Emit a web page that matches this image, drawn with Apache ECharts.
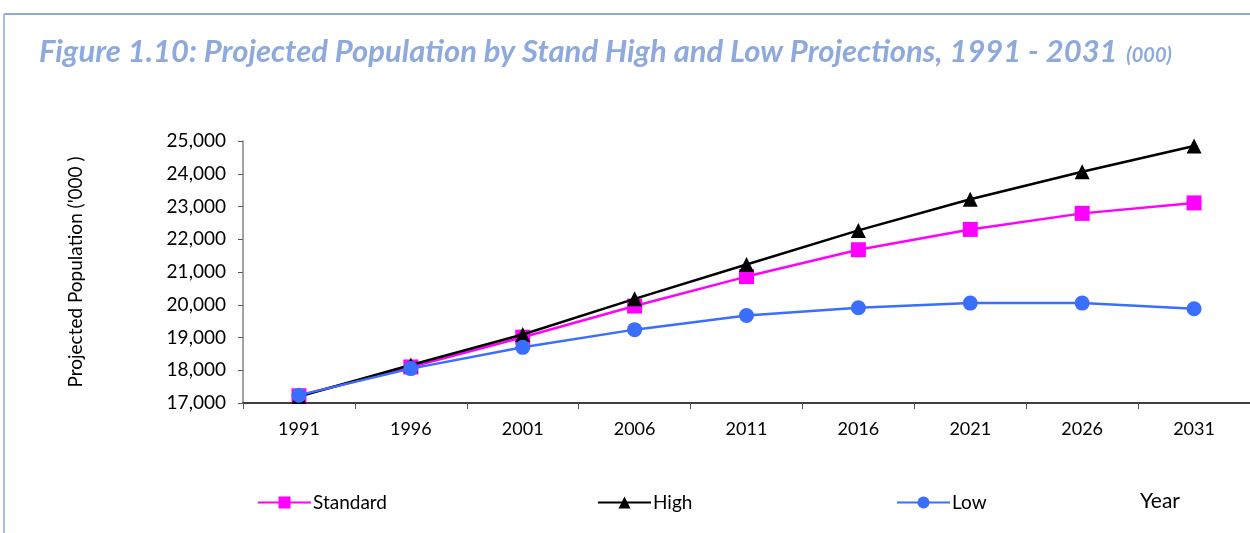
<!DOCTYPE html>
<html>
<head>
<meta charset="utf-8">
<script src="https://cdn.jsdelivr.net/npm/echarts@6/dist/echarts.min.js"></script>
<style>
html,body{margin:0;padding:0;background:#fff;}
#chart{width:1250px;height:533px;}
</style>
</head>
<body>
<div id="chart"></div>
<script>
const years = ['1991','1996','2001','2006','2011','2016','2021','2026','2031'];
const standard = [17220, 18100, 19010, 19960, 20860, 21680, 22300, 22790, 23110];
const high = [17200, 18160, 19090, 20180, 21230, 22270, 23220, 24060, 24850];
const low = [17240, 18050, 18700, 19240, 19670, 19910, 20050, 20050, 19880];
const yTicks = {min: 17000, max: 25000, interval: 1000};

const FONT = 'Lato';
const chart = echarts.init(document.getElementById('chart'));
const frameColor = '#8EA9DB';

function legendAt(name, left) {
  return {
    data: [name], left: left, top: 488, itemWidth: 53, itemHeight: 15, itemGap: 0,
    textStyle: {fontFamily: FONT, fontSize: 19, color: '#000', padding: [0,0,0,-3]}
  };
}

chart.setOption({
  animation: false,
  backgroundColor: '#fff',
  title: {
    text: '{m|Figure 1.10: Projected Population by Stand High and Low Projections, 1991 - 2031}{s|  (000)}',
    left: 34, top: 31,
    textStyle: {
      rich: {
        m: {fontFamily: FONT, fontSize: 31, fontWeight: 'bold', fontStyle: 'italic', color: frameColor},
        s: {fontFamily: FONT, fontSize: 20, fontWeight: 'bold', fontStyle: 'italic', color: frameColor, verticalAlign: 'bottom', padding: [0,0,1,0]}
      }
    }
  },
  legend: [legendAt('Standard', 252), legendAt('High', 592), legendAt('Low', 891)],
  grid: {left: 243, top: 141, right: -3, bottom: 130, containLabel: false},
  graphic: [
    {type: 'line', shape: {x1: 4, y1: 14, x2: 1250, y2: 14}, style: {stroke: frameColor, lineWidth: 2}},
    {type: 'line', shape: {x1: 4, y1: 14, x2: 4, y2: 533}, style: {stroke: frameColor, lineWidth: 1.5}},
    {type: 'text', left: 1140, top: 491, style: {text: 'Year', font: '21px ' + FONT, fill: '#000'}}
  ],
  xAxis: {
    type: 'category', data: years, boundaryGap: true,
    axisLine: {lineStyle: {color: '#000', width: 1.5}},
    axisTick: {show: true, length: 6, lineStyle: {color: '#595959'}},
    axisLabel: {fontFamily: FONT, fontSize: 18, color: '#000', margin: 17}
  },
  yAxis: {
    type: 'value', min: yTicks.min, max: yTicks.max, interval: yTicks.interval,
    name: "Projected Population ('000 )", nameLocation: 'middle', nameGap: 158,
    nameTextStyle: {fontFamily: FONT, fontSize: 19, color: '#000'},
    splitLine: {show: false},
    axisLine: {show: true, lineStyle: {color: '#868686', width: 1.5}},
    axisTick: {show: true, length: 5, lineStyle: {color: '#595959'}},
    axisLabel: {fontFamily: FONT, fontSize: 19, color: '#000', margin: 17,
      formatter: v => v.toLocaleString('en-US')}
  },
  series: [
    {name: 'Standard', type: 'line', data: standard, symbol: 'rect', symbolSize: 15,
      itemStyle: {color: '#FF00FF'}, lineStyle: {color: '#FF00FF', width: 2.5}, z: 2},
    {name: 'High', type: 'line', data: high, symbol: 'triangle', symbolSize: 15,
      itemStyle: {color: '#000'}, lineStyle: {color: '#000', width: 2.5}, z: 3},
    {name: 'Low', type: 'line', data: low, symbol: 'circle', symbolSize: 15,
      itemStyle: {color: '#3A6EFF'}, lineStyle: {color: '#3A6EFF', width: 2.5}, z: 4}
  ]
});
</script>
</body>
</html>
